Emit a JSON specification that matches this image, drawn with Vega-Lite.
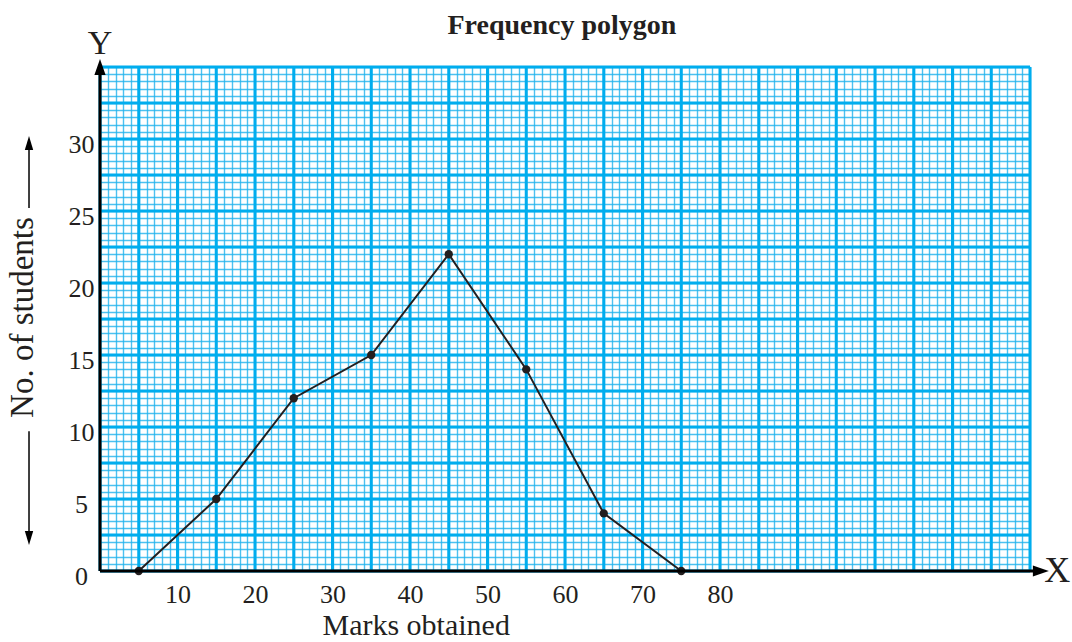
{
  "$schema": "https://vega.github.io/schema/vega-lite/v6.json",
  "width": 930,
  "height": 504,
  "autosize": "none",
  "padding": {"left": 100, "top": 67, "right": 42, "bottom": 71},
  "background": "white",
  "config": {
    "view": {"stroke": null},
    "axis": {"domain": false, "ticks": false, "grid": true, "gridColor": "#1fb2ec", "gridOpacity": 0.8, "gridWidth": 1.4, "labelFont": "Liberation Serif", "labelFontSize": 26, "labelColor": "#231f20", "labelOverlap": false, "labelFlush": false},
    "axisX": {"tickCount": 120, "labelPadding": 10, "labelExpr": "(datum.value % 10 == 0 && datum.value >= 10 && datum.value <= 80) ? format(datum.value, 'd') : ''"},
    "axisY": {"tickCount": 70, "labelPadding": 19, "labelAlign": "center", "labelBaseline": "middle", "labelOffset": 5, "labelExpr": "(datum.value % 5 == 0 && datum.value <= 30) ? format(datum.value, 'd') : ''"}
  },
  "datasets": {
    "polygon": [
      {"marks": 5, "students": 0},
      {"marks": 15, "students": 5},
      {"marks": 25, "students": 12},
      {"marks": 35, "students": 15},
      {"marks": 45, "students": 22},
      {"marks": 55, "students": 14},
      {"marks": 65, "students": 4},
      {"marks": 75, "students": 0}
    ],
    "majorX": [{"marks": 0},{"marks": 5},{"marks": 10},{"marks": 15},{"marks": 20},{"marks": 25},{"marks": 30},{"marks": 35},{"marks": 40},{"marks": 45},{"marks": 50},{"marks": 55},{"marks": 60},{"marks": 65},{"marks": 70},{"marks": 75},{"marks": 80},{"marks": 85},{"marks": 90},{"marks": 95},{"marks": 100},{"marks": 105},{"marks": 110},{"marks": 115},{"marks": 120}],
    "majorY": [{"students": 0},{"students": 2.5},{"students": 5},{"students": 7.5},{"students": 10},{"students": 12.5},{"students": 15},{"students": 17.5},{"students": 20},{"students": 22.5},{"students": 25},{"students": 27.5},{"students": 30},{"students": 32.5},{"students": 35}],
    "one": [{}]
  },
  "layer": [
    {
      "data": {"name": "majorX"},
      "mark": {"type": "rule", "stroke": "#00adee", "strokeWidth": 3},
      "encoding": {
        "x": {"field": "marks", "type": "quantitative", "title": null, "scale": {"domain": [0, 120], "nice": false, "zero": false}},
        "y": {"datum": 0, "title": null, "scale": {"domain": [0, 35], "nice": false, "zero": false}},
        "y2": {"datum": 35}
      }
    },
    {
      "data": {"name": "majorY"},
      "mark": {"type": "rule", "stroke": "#00adee", "strokeWidth": 3},
      "encoding": {
        "y": {"field": "students", "type": "quantitative", "title": null},
        "x": {"datum": 0, "title": null},
        "x2": {"datum": 120}
      }
    },
    {
      "data": {"name": "polygon"},
      "mark": {"type": "line", "stroke": "#231f20", "strokeWidth": 2},
      "encoding": {
        "x": {"field": "marks", "type": "quantitative", "title": null},
        "y": {"field": "students", "type": "quantitative", "title": null}
      }
    },
    {
      "data": {"name": "polygon"},
      "mark": {"type": "point", "filled": true, "fill": "#231f20", "size": 70, "opacity": 1},
      "encoding": {
        "x": {"field": "marks", "type": "quantitative", "title": null},
        "y": {"field": "students", "type": "quantitative", "title": null}
      }
    },
    {
      "data": {"name": "one"},
      "mark": {"type": "rule", "stroke": "#000000", "strokeWidth": 3},
      "encoding": {"x": {"datum": 0, "title": null}, "x2": {"datum": 121}, "y": {"datum": 0, "title": null}}
    },
    {
      "data": {"name": "one"},
      "mark": {"type": "rule", "stroke": "#000000", "strokeWidth": 3},
      "encoding": {"x": {"datum": 0, "title": null}, "y": {"datum": 0, "title": null}, "y2": {"datum": 34.8}}
    },
    {
      "data": {"name": "one"},
      "mark": {"type": "point", "shape": "M1,0L-1,-0.7L-1,0.7Z", "filled": true, "fill": "#000000", "size": 256, "opacity": 1},
      "encoding": {"x": {"datum": 121.4, "title": null}, "y": {"datum": 0, "title": null}}
    },
    {
      "data": {"name": "one"},
      "mark": {"type": "point", "shape": "M0,-1L0.7,1L-0.7,1Z", "filled": true, "fill": "#000000", "size": 256, "opacity": 1},
      "encoding": {"x": {"datum": 0, "title": null}, "y": {"datum": 35.0, "title": null}}
    },
    {
      "data": {"name": "one"},
      "mark": {"type": "rule", "stroke": "#000000", "strokeWidth": 1.5},
      "encoding": {"x": {"datum": -9.16, "title": null}, "y": {"datum": 25.2, "title": null}, "y2": {"datum": 29.5}}
    },
    {
      "data": {"name": "one"},
      "mark": {"type": "rule", "stroke": "#000000", "strokeWidth": 1.5},
      "encoding": {"x": {"datum": -9.16, "title": null}, "y": {"datum": 9.7, "title": null}, "y2": {"datum": 2.5}}
    },
    {
      "data": {"name": "one"},
      "mark": {"type": "point", "shape": "M0,-1L0.6,1L-0.6,1Z", "filled": true, "fill": "#000000", "size": 196, "opacity": 1},
      "encoding": {"x": {"datum": -9.16, "title": null}, "y": {"datum": 29.72, "title": null}}
    },
    {
      "data": {"name": "one"},
      "mark": {"type": "point", "shape": "M0,1L0.6,-1L-0.6,-1Z", "filled": true, "fill": "#000000", "size": 196, "opacity": 1},
      "encoding": {"x": {"datum": -9.16, "title": null}, "y": {"datum": 2.29, "title": null}}
    },
    {
      "data": {"name": "one"},
      "mark": {"type": "text", "text": "No. of students", "angle": 270, "font": "Liberation Serif", "fontSize": 33, "fill": "#231f20", "align": "center", "baseline": "alphabetic"},
      "encoding": {"x": {"datum": -8.65, "title": null}, "y": {"datum": 17.6, "title": null}}
    },
    {
      "data": {"name": "one"},
      "mark": {"type": "text", "text": "Marks obtained", "font": "Liberation Serif", "fontSize": 30, "fill": "#231f20", "align": "center", "baseline": "alphabetic"},
      "encoding": {"x": {"datum": 40.8, "title": null}, "y": {"datum": -4.45, "title": null}}
    },
    {
      "data": {"name": "one"},
      "mark": {"type": "text", "text": "X", "font": "Liberation Serif", "fontSize": 36, "fill": "#231f20", "align": "center", "baseline": "middle"},
      "encoding": {"x": {"datum": 123.5, "title": null}, "y": {"datum": 0, "title": null}}
    },
    {
      "data": {"name": "one"},
      "mark": {"type": "text", "text": "Y", "font": "Liberation Serif", "fontSize": 34, "fill": "#231f20", "align": "center", "baseline": "middle"},
      "encoding": {"x": {"datum": 0, "title": null}, "y": {"datum": 36.6, "title": null}}
    },
    {
      "data": {"name": "one"},
      "mark": {"type": "text", "text": "Frequency polygon", "font": "Liberation Serif", "fontSize": 28, "fontWeight": "bold", "fill": "#231f20", "align": "center", "baseline": "alphabetic"},
      "encoding": {"x": {"datum": 59.6, "title": null}, "y": {"datum": 37.29, "title": null}}
    }
  ]
}
